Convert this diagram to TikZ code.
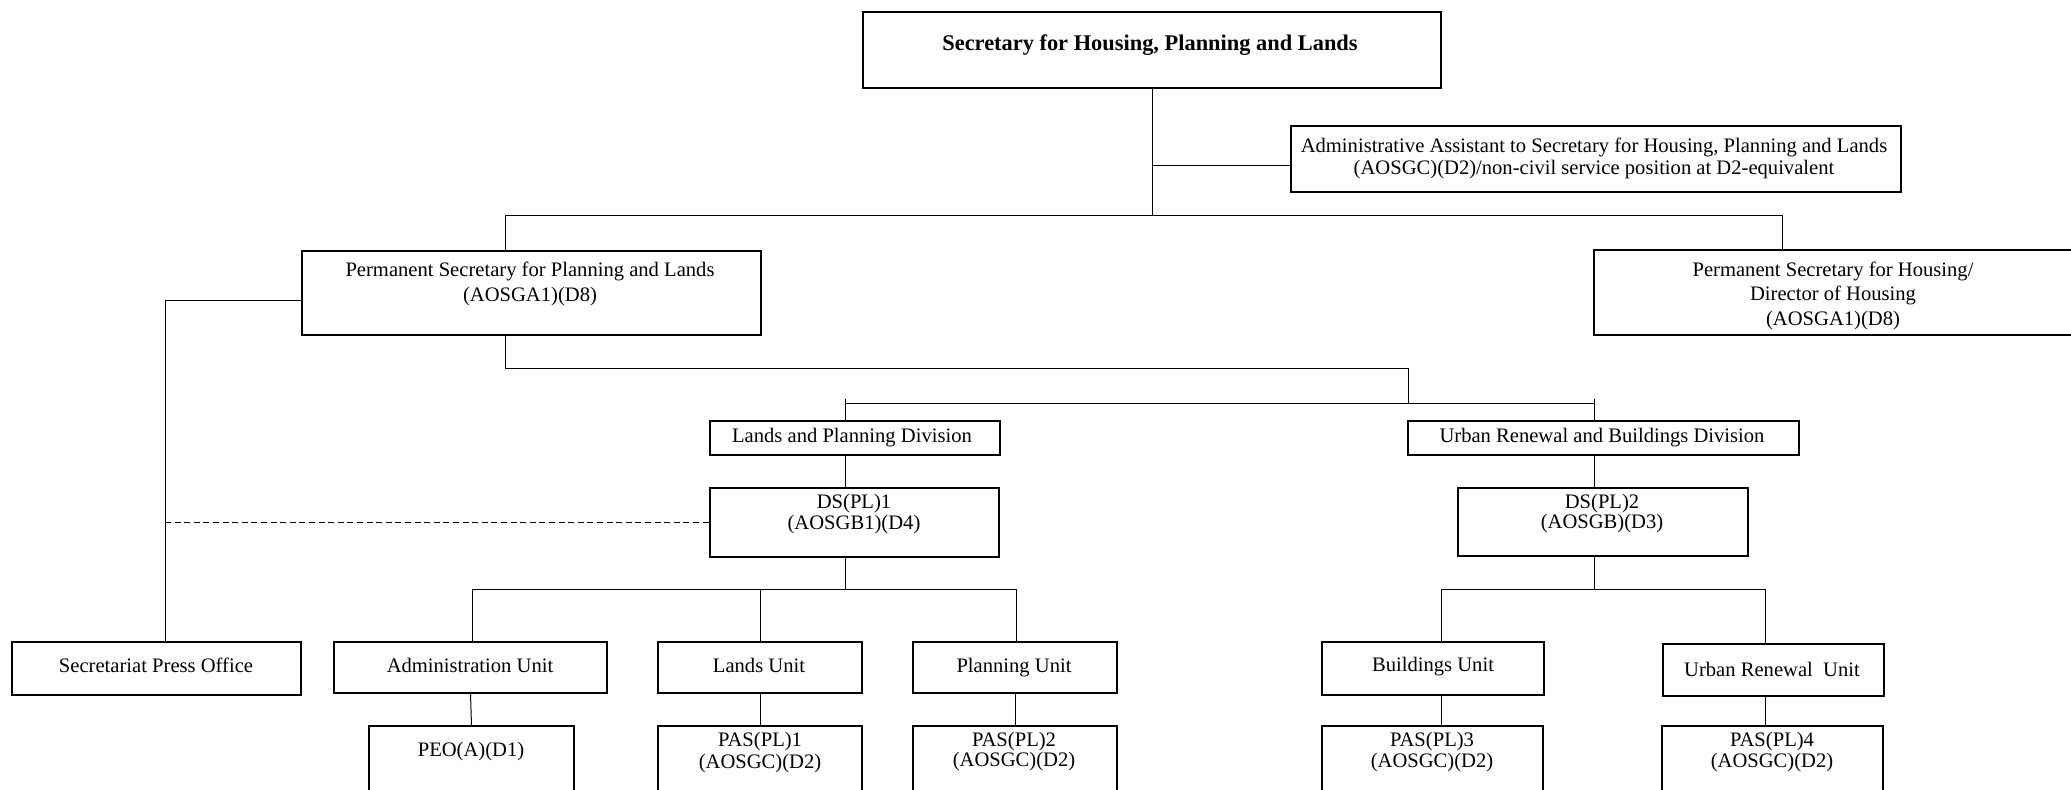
\documentclass[tikz,border=0pt]{standalone}
\usepackage{fontspec}
\setmainfont{Liberation Serif}
% box from (x1,y1) to (x2,y2), coordinates in picture units (y grows downward)
\newcommand\orgbox[5]{%
  \pgfmathsetmacro\obw{(#4-#2)*0.5}%
  \pgfmathsetmacro\obh{(#5-#3)*0.5}%
  \node[box, minimum width=\obw pt, minimum height=\obh pt] (#1) at ({(#2+#4)/2},{(#3+#5)/2}) {};%
}
\begin{document}
\begin{tikzpicture}[x=0.5pt, y=-0.5pt,
  box/.style={draw, line width=0.6pt, rectangle, inner sep=0pt, outer sep=0pt},
  lbl/.style={anchor=base, inner sep=0pt, font=\fontsize{10.3}{12}\selectfont},
  head/.style={anchor=base, inner sep=0pt, font=\fontsize{11.2}{13}\selectfont\bfseries},
  link/.style={line width=0.5pt},
  liaison/.style={line width=0.5pt, dash pattern=on 3pt off 1.8pt}]
\clip (0,0) rectangle (2071,789);
\fill[white] (0,0) rectangle (2071,789);

% ---- boxes ----
\orgbox{shpl}{863}{12}{1441}{88}
\orgbox{aa}{1291}{126}{1901}{192}
\orgbox{pspl}{302}{251}{761}{335}
\orgbox{psh}{1594}{250}{2090}{335}
\orgbox{lpd}{710}{421}{1000}{455}
\orgbox{urbd}{1408}{421}{1799}{455}
\orgbox{dsa}{710}{488}{999}{557}
\orgbox{dsb}{1458}{488}{1748}{556}
\orgbox{spo}{12}{642}{301}{695}
\orgbox{adm}{334}{642}{607}{693}
\orgbox{lu}{658}{642}{862}{693}
\orgbox{pu}{913}{642}{1117}{693}
\orgbox{bu}{1322}{642}{1544}{695}
\orgbox{uru}{1663}{644}{1884}{696}
\orgbox{peo}{369}{726}{574}{830}
\orgbox{pasa}{658}{726}{862}{830}
\orgbox{pasb}{913}{726}{1117}{830}
\orgbox{pasc}{1322}{726}{1543}{830}
\orgbox{pasd}{1662}{726}{1883}{830}

% ---- junction points ----
\coordinate (j1) at (1152,215);
\coordinate (aaj) at (1152,165);
\coordinate (b1) at (505,215);
\coordinate (b2) at (1782,215);
\coordinate (pl) at (165,300);
\coordinate (c1) at (505,368);
\coordinate (c2) at (1408,368);
\coordinate (c3) at (1408,403);
\coordinate (d1) at (845,403);
\coordinate (d2) at (1594,403);
\coordinate (e0) at (845,589);
\coordinate (ea) at (472,589);
\coordinate (eb) at (1016,589);
\coordinate (f0) at (1594,589);
\coordinate (fa) at (1441,589);
\coordinate (fb) at (1765,589);

% ---- connectors ----
\draw[link] (shpl.south -| j1) -- (j1);
\draw[link] (aaj) -- (aaj -| aa.west);
\draw[link] (b1 |- pspl.north) -- (b1) -- (b2) -- (b2 |- psh.north);
\draw[link] (pl -| pspl.west) -- (pl) -- (pl |- spo.north);
\draw[liaison] (pl |- dsa.west) -- (dsa.west);
\draw[link] (c1 |- pspl.south) -- (c1) -- (c2) -- (c3);
\draw[link] (d1) -- (d2);
\draw[link] (d1) ++(0,-4) -- (d1 |- lpd.north);
\draw[link] (d2) ++(0,-4) -- (d2 |- urbd.north);
\draw[link] (lpd.south -| d1) -- (dsa.north -| d1);
\draw[link] (urbd.south -| d2) -- (dsb.north -| d2);
\draw[link] (dsa.south -| e0) -- (e0);
\draw[link] (ea) -- (eb);
\draw[link] (ea) -- (ea |- adm.north);
\draw[link] (lu.north |- e0) -- (lu.north);
\draw[link] (eb) -- (eb |- pu.north);
\draw[link] (adm.south) -- (peo.north);
\draw[link] (lu.south) -- (pasa.north);
\draw[link] (pu.south) -- (pasb.north);
\draw[link] (dsb.south -| f0) -- (f0);
\draw[link] (fa) -- (fb);
\draw[link] (fa) -- (fa |- bu.north);
\draw[link] (fb) -- (fb |- uru.north);
\draw[link] (bu.south -| fa) -- (pasc.north -| fa);
\draw[link] (uru.south -| fb) -- (pasd.north -| fb);

% ---- texts ----
\node[head] (t-shpl) at (1150,50) {Secretary for Housing, Planning and Lands};
\node[lbl] (t-aa1) at (1594,152) {Administrative Assistant to Secretary for Housing, Planning and Lands};
\node[lbl] (t-aa2) at (1594,174) {(AOSGC)(D2)/non-civil service position at D2-equivalent};
\node[lbl] (t-pspl1) at (530,276) {Permanent Secretary for Planning and Lands};
\node[lbl] (t-pspl2) at (530,301) {(AOSGA1)(D8)};
\node[lbl] (t-psh1) at (1833,276) {Permanent Secretary for Housing/};
\node[lbl] (t-psh2) at (1833,300) {Director of Housing};
\node[lbl] (t-psh3) at (1833,325) {(AOSGA1)(D8)};
\node[lbl] (t-lpd) at (852,442) {Lands and Planning Division};
\node[lbl] (t-urbd) at (1602,442) {Urban Renewal and Buildings Division};
\node[lbl] (t-dsa1) at (854,508) {DS(PL)1};
\node[lbl] (t-dsa2) at (854,529) {(AOSGB1)(D4)};
\node[lbl] (t-dsb1) at (1602,508) {DS(PL)2};
\node[lbl] (t-dsb2) at (1602,528) {(AOSGB)(D3)};
\node[lbl] (t-spo) at (156,672) {Secretariat Press Office};
\node[lbl] (t-adm) at (470,672) {Administration Unit};
\node[lbl] (t-lu) at (759,672) {Lands Unit};
\node[lbl] (t-pu) at (1014,672) {Planning Unit};
\node[lbl] (t-bu) at (1433,671) {Buildings Unit};
\node[lbl] (t-uru) at (1772,676) {Urban Renewal\ \ Unit};
\node[lbl] (t-peo) at (471,756) {PEO(A)(D1)};
\node[lbl] (t-pasa1) at (760,746) {PAS(PL)1};
\node[lbl] (t-pasa2) at (760,768) {(AOSGC)(D2)};
\node[lbl] (t-pasb1) at (1014,746) {PAS(PL)2};
\node[lbl] (t-pasb2) at (1014,766) {(AOSGC)(D2)};
\node[lbl] (t-pasc1) at (1432,746) {PAS(PL)3};
\node[lbl] (t-pasc2) at (1432,767) {(AOSGC)(D2)};
\node[lbl] (t-pasd1) at (1772,746) {PAS(PL)4};
\node[lbl] (t-pasd2) at (1772,767) {(AOSGC)(D2)};
\end{tikzpicture}
\end{document}
